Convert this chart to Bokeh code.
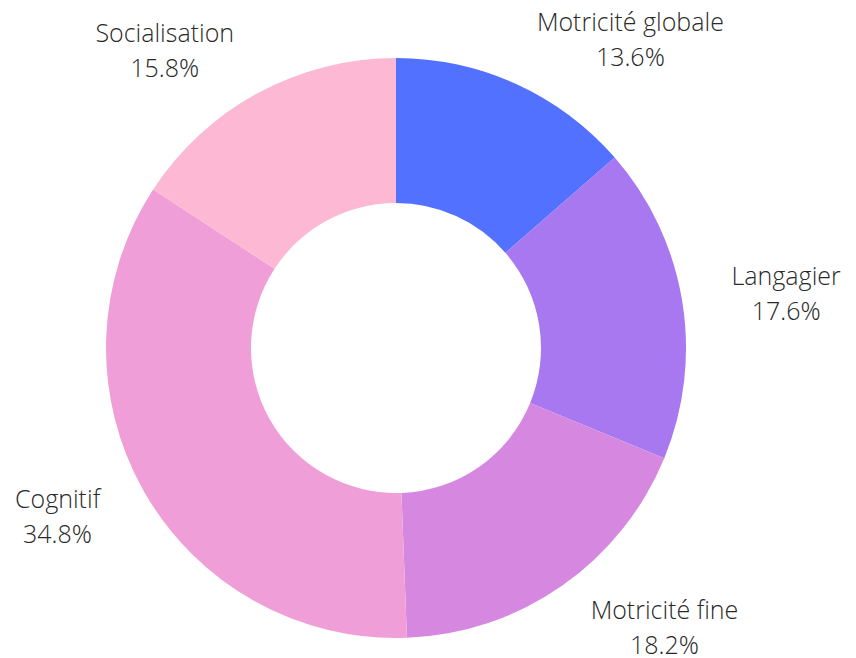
import numpy as np
from bokeh.plotting import figure
from bokeh.models import ColumnDataSource, Range1d
from bokeh.core.properties import value
from bokeh.embed import file_html
from bokeh.resources import INLINE

categories = ["Motricité globale", "Langagier", "Motricité fine", "Cognitif", "Socialisation"]
percentages = [13.6, 17.6, 18.2, 34.8, 15.8]
colors = ["#5271FF", "#A778F0", "#D688E0", "#F09ED7", "#FDB8D3"]

W, H = 848, 658
cx, cy = 395.5, 347.5          # centre in plot pixels (from top-left)
R_OUT, R_IN, R_LAB = 290, 145, 340

vals = np.array(percentages, dtype=float)
frac = vals / vals.sum()
cum_end = np.cumsum(frac)
cum_start = cum_end - frac
start = np.pi / 2 - 2 * np.pi * cum_start
end = np.pi / 2 - 2 * np.pi * cum_end
mid = np.pi / 2 - 2 * np.pi * (cum_start + frac / 2)

src = ColumnDataSource(dict(start=start, end=end, color=colors))

p = figure(width=W, height=H, output_backend="svg", toolbar_location=None,
           x_range=Range1d(-cx, W - cx), y_range=Range1d(-(H - cy), cy),
           min_border=0, outline_line_color=None)
p.axis.visible = False
p.grid.visible = False
p.background_fill_color = "white"
p.border_fill_color = "white"

p.annular_wedge(x=0, y=0, inner_radius=R_IN, outer_radius=R_OUT,
                start_angle="start", end_angle="end", direction="clock",
                color="color", line_color=None, source=src)

lx = R_LAB * np.cos(mid)
ly = R_LAB * np.sin(mid)
labels = [f"{c}\n{v:.1f}%" for c, v in zip(categories, percentages)]
anchors = ["center_left" if x >= 0 else "center_right" for x in lx]
lsrc = ColumnDataSource(dict(x=lx, y=ly, text=labels, anchor=anchors))
p.text(x="x", y="y", text="text", anchor="anchor", source=lsrc,
       text_align="center", text_font=value("Open Sans Light"),
       text_font_size="25px", text_color="#2a2a2a", text_line_height=1.03)

open("out.html", "w").write(file_html(p, INLINE))
